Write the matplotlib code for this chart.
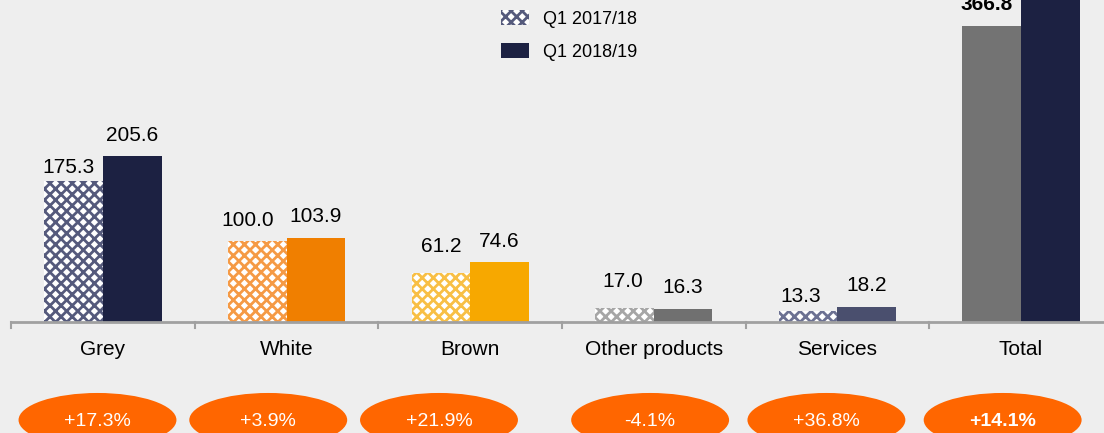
import matplotlib
matplotlib.use("Agg")
import matplotlib.pyplot as plt
from matplotlib.patches import Ellipse, Patch

plt.rcParams['font.family'] = ['Liberation Sans', 'DejaVu Sans']
plt.rcParams['hatch.linewidth'] = 2.0

# data
categories = ['Grey', 'White', 'Brown', 'Other products', 'Services', 'Total']
q1_1718 = [175.3, 100.0, 61.2, 17.0, 13.3, 366.8]
q1_1819 = [205.6, 103.9, 74.6, 16.3, 18.2, 418.5]
growth = ['+17.3%', '+3.9%', '+21.9%', '-4.1%', '+36.8%', '+14.1%']
series_names = ['Q1 2017/18', 'Q1 2018/19']

# styles / layout
old_colors = ['#555a7c', '#f59a45', '#f8bf45', '#a6a6a6', '#6c7192', '#737373']
new_colors = ['#1c2142', '#f07f00', '#f7a800', '#707070', '#4a4f6e', '#1c2142']
old_hatch = ['xxx', 'xxx', 'xxx', 'xxx', 'xxx', '']
old_gap = [8, 15, 21, 21, 9, 16]      # label baseline above bar, px
new_gap = [15, 16, 15, 16, 16, 16]
old_shift = [-5, -10, 0, -2, -7, -5]  # label x shift, px
pill_x = [-0.03, 0.90, 1.83, 2.98, 3.94, 4.90]
bg = '#eeeeee'
w = 0.319
pt = 0.72

fig = plt.figure(figsize=(11.04, 4.33), dpi=100, facecolor=bg)
ax = fig.add_axes([0, 0, 1, 1], facecolor=bg)
ax.set_xlim(-0.561, 5.452)
ax.set_ylim(-137.5, 399)
ax.axis('off')

x = list(range(len(categories)))
for i in x:
    if old_hatch[i]:
        ax.bar(i, q1_1718[i], width=-w, align='edge', color='white',
               edgecolor=old_colors[i], hatch=old_hatch[i], linewidth=0)
    else:
        ax.bar(i, q1_1718[i], width=-w, align='edge', color=old_colors[i], linewidth=0)
    ax.bar(i, q1_1819[i], width=w, align='edge', color=new_colors[i], linewidth=0)

    bold = 'bold' if categories[i] == 'Total' else 'normal'
    ax.annotate(f'{q1_1718[i]:.1f}', (i - w / 2, q1_1718[i]),
                xytext=(old_shift[i] * pt, old_gap[i] * pt),
                textcoords='offset points', ha='center', va='baseline',
                fontsize=15, fontweight=bold, color='black')
    ax.annotate(f'{q1_1819[i]:.1f}', (i + w / 2, q1_1819[i]),
                xytext=(0, new_gap[i] * pt),
                textcoords='offset points', ha='center', va='baseline',
                fontsize=15, fontweight=bold, color='black')

    ax.text(i, -34.5, categories[i], ha='center', va='center', fontsize=15)

    ax.add_patch(Ellipse((pill_x[i], -121.4), 0.86, 67, facecolor='#ff6600',
                         edgecolor='none'))
    ax.text(pill_x[i], -123, growth[i], ha='center', va='center', fontsize=14,
            color='white', fontweight=bold)

# category axis
ax.axhline(0, xmin=0.01, xmax=1, color='#a0a0a0', linewidth=2)
for i in x:
    ax.plot([i - 0.5, i - 0.5], [0, -8], color='#a0a0a0', linewidth=1.5)

handles = [Patch(facecolor='white', edgecolor=old_colors[0], hatch='xxx', linewidth=0),
           Patch(facecolor=new_colors[0], linewidth=0)]
fig.legend(handles, series_names, loc='upper left', bbox_to_anchor=(501 / 1104, 1 - 10 / 433),
           frameon=False, fontsize=13, handlelength=1.55, handleheight=0.9,
           handletextpad=0.8, labelspacing=0.85, borderpad=0, borderaxespad=0)

fig.savefig('out.png', dpi=100, facecolor=bg)
